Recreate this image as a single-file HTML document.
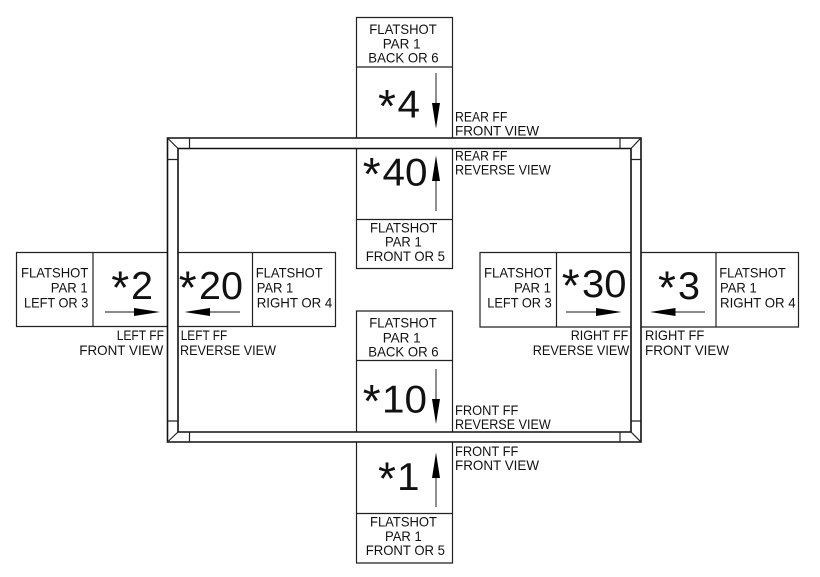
<!DOCTYPE html>
<html>
<head>
<meta charset="utf-8">
<style>
html,body{margin:0;padding:0;background:#fff;width:820px;height:577px;overflow:hidden}
svg{display:block}
text{font-family:"Liberation Sans",sans-serif;font-size:14px;fill:#111}
text.b{font-size:39px}
text.a{font-size:46px}
</style>
</head>
<body>
<svg width="820" height="577" viewBox="0 0 820 577" xmlns="http://www.w3.org/2000/svg">
<!-- boxes -->
<g fill="none" stroke="#222" stroke-width="1.2">
<path d="M356.5 137.5V17.5H452.5V137.5M356.5 67H452.5"/>
<path d="M356.5 148V268.5H452.5V148M356.5 219.5H452.5"/>
<path d="M356.5 431.5V311H452.5V431.5M356.5 360.5H452.5"/>
<path d="M356.5 442V563H452.5V442M356.5 513.5H452.5"/>
<path d="M167.5 252.5H16.5V326.5H167.5M93 252.5V326.5"/>
<path d="M178 252.5H335.5V326.5H178M252.5 252.5V326.5"/>
<path d="M631 252.5H480V327H631M556.5 252.5V327"/>
<path d="M641 252.5H798.5V327H641M716 252.5V327"/>
</g>
<!-- frame -->
<g fill="none" stroke="#111" stroke-width="1.6">
<path d="M167.5 138H641V442H167.5Z"/>
<path d="M178 148.5H631V432H178Z"/>
</g>
<g fill="none" stroke="#222" stroke-width="1.2">
<path d="M167.5 138L178 148.5M641 138L631 148.5M167.5 442L178 432M641 442L631 432"/>
<path d="M189.5 138V148.5M620 138V148.5M189.5 432V442M620 432V442"/>
<path d="M167.5 159.5H178M631 159.5H641M167.5 421H178M631 421H641"/>
</g>
<!-- arrows -->
<g stroke="#444" stroke-width="1.2">
<path d="M436 73V105M436 180V211M436 369V401M436 478V507"/>
<path d="M105 312H136M208 312H240M566 312H598M674 312H705"/>
</g>
<g fill="#000">
<path d="M432 103H440L436 128.5Z"/>
<path d="M432 181H440L436 155.5Z"/>
<path d="M432 399H440L436 424Z"/>
<path d="M432 478H440L436 452.5Z"/>
<path d="M134 308V316L160 312Z"/>
<path d="M210 308V316L184.5 312Z"/>
<path d="M596 308V316L621.5 312Z"/>
<path d="M675.5 308V316L650 312Z"/>
</g>
<!-- big labels -->
<text class="a" x="378" y="122">*</text><text class="b" x="397.5" y="117.5" textLength="22.5" lengthAdjust="spacingAndGlyphs">4</text>
<text class="a" x="362.7" y="190">*</text><text class="b" x="382.5" y="185.5" textLength="45" lengthAdjust="spacingAndGlyphs">40</text>
<text class="a" x="362.7" y="417">*</text><text class="b" x="382" y="412.5" textLength="45" lengthAdjust="spacingAndGlyphs">10</text>
<text class="a" x="378" y="494.5">*</text><text class="b" x="397" y="490" textLength="22.5" lengthAdjust="spacingAndGlyphs">1</text>
<text class="a" x="111.3" y="303.5">*</text><text class="b" x="131" y="299" textLength="22" lengthAdjust="spacingAndGlyphs">2</text>
<text class="a" x="178.7" y="303.5">*</text><text class="b" x="199" y="299" textLength="44" lengthAdjust="spacingAndGlyphs">20</text>
<text class="a" x="561.7" y="301.5">*</text><text class="b" x="582" y="297" textLength="44.5" lengthAdjust="spacingAndGlyphs">30</text>
<text class="a" x="658" y="303.5">*</text><text class="b" x="678" y="299" textLength="22" lengthAdjust="spacingAndGlyphs">3</text>
<!-- top box -->
<text x="369.3" y="34" textLength="67.4" lengthAdjust="spacingAndGlyphs">FLATSHOT</text>
<text x="382.7" y="48.3" textLength="38" lengthAdjust="spacingAndGlyphs">PAR 1</text>
<text x="368.3" y="62.7" textLength="70.3" lengthAdjust="spacingAndGlyphs">BACK OR 6</text>
<text x="455" y="121.7" textLength="52.3" lengthAdjust="spacingAndGlyphs">REAR FF</text>
<text x="455" y="135.5" textLength="84" lengthAdjust="spacingAndGlyphs">FRONT VIEW</text>
<text x="455" y="160.7" textLength="52.3" lengthAdjust="spacingAndGlyphs">REAR FF</text>
<text x="455" y="174.7" textLength="95.7" lengthAdjust="spacingAndGlyphs">REVERSE VIEW</text>
<text x="370" y="232.3" textLength="67.3" lengthAdjust="spacingAndGlyphs">FLATSHOT</text>
<text x="385" y="246.7" textLength="36.7" lengthAdjust="spacingAndGlyphs">PAR 1</text>
<text x="365.7" y="261" textLength="79.3" lengthAdjust="spacingAndGlyphs">FRONT OR 5</text>
<!-- lower center -->
<text x="369.3" y="327.7" textLength="67.4" lengthAdjust="spacingAndGlyphs">FLATSHOT</text>
<text x="382.7" y="342.3" textLength="38" lengthAdjust="spacingAndGlyphs">PAR 1</text>
<text x="368.3" y="356.7" textLength="70.3" lengthAdjust="spacingAndGlyphs">BACK OR 6</text>
<text x="455" y="415" textLength="63.3" lengthAdjust="spacingAndGlyphs">FRONT FF</text>
<text x="455" y="429" textLength="95.7" lengthAdjust="spacingAndGlyphs">REVERSE VIEW</text>
<text x="455" y="456" textLength="63.3" lengthAdjust="spacingAndGlyphs">FRONT FF</text>
<text x="455" y="470" textLength="84" lengthAdjust="spacingAndGlyphs">FRONT VIEW</text>
<text x="370" y="526.7" textLength="67" lengthAdjust="spacingAndGlyphs">FLATSHOT</text>
<text x="385" y="541" textLength="36.7" lengthAdjust="spacingAndGlyphs">PAR 1</text>
<text x="365.7" y="555" textLength="79.3" lengthAdjust="spacingAndGlyphs">FRONT OR 5</text>
<!-- left -->
<text x="21" y="277.5" textLength="67.3" lengthAdjust="spacingAndGlyphs">FLATSHOT</text>
<text x="50.7" y="292.5" textLength="37" lengthAdjust="spacingAndGlyphs">PAR 1</text>
<text x="24" y="307.5" textLength="64.3" lengthAdjust="spacingAndGlyphs">LEFT OR 3</text>
<text x="116.7" y="340" textLength="47.3" lengthAdjust="spacingAndGlyphs">LEFT FF</text>
<text x="79.3" y="355" textLength="84" lengthAdjust="spacingAndGlyphs">FRONT VIEW</text>
<text x="255.7" y="277.5" textLength="67" lengthAdjust="spacingAndGlyphs">FLATSHOT</text>
<text x="256.7" y="292.5" textLength="36.6" lengthAdjust="spacingAndGlyphs">PAR 1</text>
<text x="256.7" y="307.5" textLength="75.6" lengthAdjust="spacingAndGlyphs">RIGHT OR 4</text>
<text x="180.7" y="340" textLength="46.6" lengthAdjust="spacingAndGlyphs">LEFT FF</text>
<text x="180" y="355" textLength="96" lengthAdjust="spacingAndGlyphs">REVERSE VIEW</text>
<!-- right -->
<text x="484" y="277.5" textLength="67.7" lengthAdjust="spacingAndGlyphs">FLATSHOT</text>
<text x="514" y="292.5" textLength="37" lengthAdjust="spacingAndGlyphs">PAR 1</text>
<text x="487.3" y="307.5" textLength="64.4" lengthAdjust="spacingAndGlyphs">LEFT OR 3</text>
<text x="570.7" y="340" textLength="57.6" lengthAdjust="spacingAndGlyphs">RIGHT FF</text>
<text x="532.7" y="355" textLength="96.6" lengthAdjust="spacingAndGlyphs">REVERSE VIEW</text>
<text x="719.3" y="277.5" textLength="66.4" lengthAdjust="spacingAndGlyphs">FLATSHOT</text>
<text x="720" y="292.5" textLength="36.7" lengthAdjust="spacingAndGlyphs">PAR 1</text>
<text x="720" y="307.5" textLength="75.7" lengthAdjust="spacingAndGlyphs">RIGHT OR 4</text>
<text x="645" y="340" textLength="59.3" lengthAdjust="spacingAndGlyphs">RIGHT FF</text>
<text x="645" y="355" textLength="84" lengthAdjust="spacingAndGlyphs">FRONT VIEW</text>
</svg>
</body>
</html>
